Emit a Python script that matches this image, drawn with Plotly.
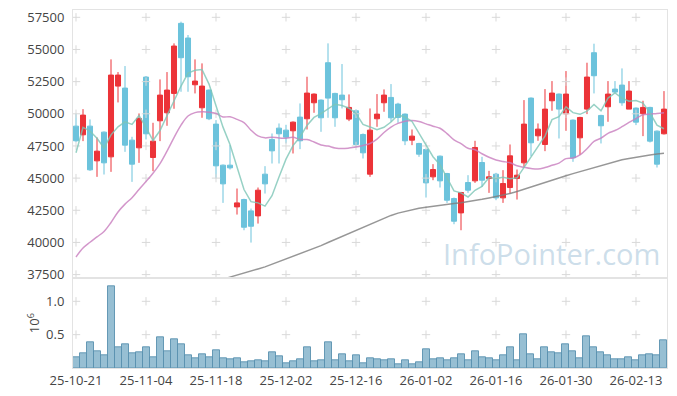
import plotly.graph_objects as go
from plotly.subplots import make_subplots

# ---- data ----
months = [("25-10", [21, 22, 23, 24, 27, 28, 29, 30, 31]),
          ("25-11", [3, 4, 5, 6, 7, 10, 11, 12, 13, 14, 17, 18, 19, 20, 21, 24, 25, 26, 27, 28]),
          ("25-12", [1, 2, 3, 4, 5, 8, 9, 10, 11, 12, 15, 16, 17, 18, 19, 22, 23, 24, 26, 29, 30]),
          ("26-01", [2, 5, 6, 7, 8, 9, 12, 13, 14, 15, 16, 19, 20, 21, 22, 23, 26, 27, 28, 29, 30]),
          ("26-02", [2, 3, 4, 5, 6, 9, 10, 11, 12, 13, 19, 20, 23, 24])]
dates = [f"{m}-{d:02d}" for m, days in months for d in days]

open_ = [49041, 48366, 49041, 46343, 48574, 46654, 52154, 51998, 47951, 47355,
         52854, 46603, 49456, 50078, 51583, 57030, 55889, 52257, 50468, 51842,
         49197, 46006, 46006, 42763, 43334, 42452, 42063, 45306, 48003, 48885,
         48730, 48678, 49741, 49612, 50857, 51064, 53969, 51583, 51453, 49586,
         50234, 48392, 45306, 49612, 50857, 51272, 50753, 49975, 47951, 47692,
         47225, 45098, 46706, 45357, 43412, 42296, 44657, 44787, 46213, 44968,
         45306, 43464, 44268, 44968, 46187, 51220, 48289, 47614, 51012, 51531,
         50001, 49508, 48133, 50364, 54748, 49871, 50545, 51920, 52231, 50364,
         50442, 50001, 50494, 48652, 48444]
high = [50027, 50364, 49560, 48159, 48626, 54229, 53243, 53710, 48211, 50027,
        52932, 49300, 52672, 53243, 55474, 57160, 56122, 54229, 53918, 51894,
        49508, 46058, 47562, 44190, 43400, 42634, 44268, 45928, 48470, 49248,
        49145, 49404, 50805, 52880, 51583, 51116, 55474, 51635, 53866, 51505,
        50338, 48470, 50416, 51531, 51894, 52309, 50857, 50027, 48781, 47744,
        47303, 46084, 46758, 45409, 43490, 43931, 45228, 47900, 46654, 45565,
        45409, 45617, 47614, 45669, 51064, 51272, 49248, 51920, 52543, 51583,
        53321, 49560, 49767, 53969, 55448, 49923, 52543, 52543, 53528, 52543,
        50494, 51012, 50546, 48704, 51765]
low = [47796, 47874, 45565, 45098, 45280, 45487, 50883, 47043, 44709, 46187,
       48003, 45539, 47874, 49067, 50390, 51713, 51713, 51583, 49689, 49508,
       44968, 43075, 45669, 42167, 40948, 39988, 41466, 43801, 46136, 46136,
       47692, 46914, 47251, 48781, 50078, 48600, 49689, 48989, 50416, 49430,
       47433, 46525, 45098, 48989, 50156, 49378, 49300, 47562, 47562, 46654,
       43490, 44838, 44268, 43075, 41415, 40948, 43853, 44631, 44320, 43853,
       43282, 43075, 43801, 43334, 45876, 46706, 47900, 47095, 50234, 48081,
       48678, 46265, 46810, 49975, 51583, 47692, 49378, 51583, 50623, 50364,
       49119, 48263, 47770, 45824, 48392]
close = [47900, 49897, 45643, 47095, 46187, 53010, 53010, 47562, 46084, 49637,
         48444, 47874, 51453, 51842, 55266, 54359, 52880, 52543, 52154, 49612,
         45954, 44553, 45798, 43075, 41181, 41259, 44060, 44553, 47121, 48444,
         48185, 49352, 47900, 51609, 51531, 49689, 51220, 49689, 51090, 50494,
         47614, 46966, 48730, 49975, 51453, 49689, 49715, 47900, 48263, 46862,
         44631, 45669, 44787, 43282, 41648, 43879, 44060, 47381, 44839, 45098,
         43464, 44579, 46732, 45228, 49197, 47744, 48807, 50364, 51609, 50364,
         51531, 46577, 49715, 52854, 52958, 49067, 51531, 51687, 50857, 51765,
         49352, 50494, 47874, 46084, 50364]
ma5 = [46966, 48950, 48650, 48100, 47344, 48366, 48989, 49373, 49171, 49861,
       48947, 47920, 48698, 49850, 50976, 52159, 53160, 53378, 53440, 52310,
       50629, 48963, 47614, 45798, 44112, 43173, 43075, 42826, 43635, 45087,
       46473, 47531, 48200, 49098, 49715, 50016, 50390, 50748, 50644, 50436,
       50021, 49171, 48979, 48756, 48948, 49363, 49912, 49746, 49404, 48486,
       47474, 46665, 46042, 45046, 44003, 43853, 43531, 44050, 44361, 45051,
       44968, 45072, 44942, 45020, 45840, 46696, 47542, 48268, 49544, 49778,
       50535, 50089, 49959, 50208, 50727, 50234, 51225, 51619, 51220, 50981,
       51038, 50831, 50068, 49114, 48834]
ma20 = [38870, 39560, 40015, 40430, 40850, 41550, 42370, 42980, 43480, 44120,
        44730, 45380, 46130, 47100, 48150, 49120, 49830, 50090, 50150, 50123,
        50025, 49758, 49766, 49565, 49315, 48727, 48280, 48129, 48181, 48121,
        48108, 48182, 48005, 47993, 47806, 47573, 47490, 47347, 47294, 47338,
        47421, 47542, 47688, 48033, 48547, 48968, 49251, 49418, 49475, 49396,
        49219, 49034, 48879, 48462, 47968, 47678, 47320, 47204, 46892, 46622,
        46415, 46295, 46195, 45958, 45845, 45748, 45703, 45826, 45993, 46168,
        46513, 46559, 46805, 47284, 47849, 48108, 48482, 48697, 48998, 49332,
        49626, 49922, 49979, 50022, 50080]
ma60 = [None] * 21 + [
        37150, 37320, 37470, 37620, 37780, 37940, 38100, 38300, 38500, 38700,
        38900, 39100, 39300, 39520, 39750, 39990, 40230, 40470, 40710, 40960,
        41200, 41430, 41660, 41880, 42100, 42280, 42420, 42540, 42650, 42740,
        42820, 42890, 42960, 43020, 43080, 43160, 43250, 43350, 43460, 43570,
        43690, 43810, 43960, 44140, 44330, 44520, 44700, 44870, 45030, 45190,
        45350, 45510, 45670, 45830, 45990, 46150, 46290, 46420, 46530, 46630,
        46720, 46800, 46870, 46930]
volume = [154000, 214000, 379000, 244000, 184000, 1225000, 304000, 349000, 214000, 229000,
          304000, 154000, 454000, 244000, 424000, 349000, 184000, 139000, 199000, 154000,
          259000, 139000, 124000, 139000, 79000, 94000, 109000, 94000, 229000, 169000,
          64000, 94000, 124000, 304000, 94000, 109000, 379000, 109000, 199000, 94000,
          184000, 64000, 139000, 124000, 109000, 124000, 49000, 109000, 49000, 79000,
          274000, 124000, 139000, 109000, 139000, 199000, 109000, 244000, 154000, 139000,
          109000, 184000, 304000, 109000, 499000, 199000, 124000, 304000, 229000, 214000,
          349000, 244000, 139000, 469000, 304000, 229000, 184000, 124000, 124000, 154000,
          109000, 184000, 199000, 184000, 409000]

price_ticks = [37500, 40000, 42500, 45000, 47500, 50000, 52500, 55000, 57500]
vol_ticks = [0.5, 1.0]
x_tick_idx = list(range(0, 85, 10))

# ---- styles ----
RED = "#ec3338"
BLUE = "#6cc3dc"
GRIDC = "#d9d9d9"
FONT = "Open Sans"

fig = make_subplots(rows=2, cols=1, shared_xaxes=True, vertical_spacing=0)

xt = [dates[k] for k in x_tick_idx]
# grid crosses
fig.add_trace(go.Scatter(x=[x for x in xt for _ in price_ticks], y=[y for _ in xt for y in price_ticks],
                         mode="markers", marker=dict(symbol="cross-thin", size=6, line=dict(color=GRIDC, width=1)),
                         hoverinfo="skip", showlegend=False), row=1, col=1)
fig.add_trace(go.Scatter(x=[x for x in xt for _ in vol_ticks], y=[y for _ in xt for y in vol_ticks],
                         mode="markers", marker=dict(symbol="cross-thin", size=6, line=dict(color=GRIDC, width=1)),
                         hoverinfo="skip", showlegend=False), row=2, col=1)

fig.add_trace(go.Scatter(x=dates, y=ma60, mode="lines", line=dict(color="rgba(125,125,125,0.8)", width=1.5),
                         showlegend=False), row=1, col=1)
fig.add_trace(go.Scatter(x=dates, y=ma20, mode="lines", line=dict(color="rgba(200,125,190,0.8)", width=1.5, shape="spline"),
                         showlegend=False), row=1, col=1)
fig.add_trace(go.Scatter(x=dates, y=ma5, mode="lines", line=dict(color="rgba(125,198,182,0.8)", width=1.5),
                         showlegend=False), row=1, col=1)

fig.add_trace(go.Candlestick(x=dates, open=open_, high=high, low=low, close=close,
                             increasing=dict(line=dict(color=RED, width=1), fillcolor=RED),
                             decreasing=dict(line=dict(color=BLUE, width=1), fillcolor=BLUE),
                             whiskerwidth=0, showlegend=False), row=1, col=1)

fig.add_trace(go.Bar(x=dates, y=[v / 1e6 for v in volume],
                     marker=dict(color="rgba(125,175,200,0.8)", line=dict(color="rgba(90,145,175,0.9)", width=1)),
                     showlegend=False), row=2, col=1)

# page body has an 8px default margin, so the figure is sized/offset to compensate
dom = (367.6 - 278) / 357.6
xcommon = dict(type="category", categoryorder="array", categoryarray=dates, range=[-0.43, 84.43],
               showgrid=False, showline=True, mirror=True, linecolor="#e3e3e3", automargin=False)
fig.update_layout(
    width=669, height=388,
    margin=dict(l=65, r=10, t=2, b=28.4),
    paper_bgcolor="white", plot_bgcolor="white",
    font=dict(family=FONT, size=13, color="#444"),
    bargap=0, boxgap=0.28, boxgroupgap=0,
    xaxis=dict(**xcommon, showticklabels=False, rangeslider=dict(visible=False), ticks=""),
    xaxis2=dict(**xcommon, tickvals=xt, ticktext=xt, ticks="", tickangle=0, ticklabeloverflow="allow"),
    yaxis=dict(domain=[dom, 1], range=[37212, 58068], tickvals=price_ticks, tickformat="d",
               showgrid=False, zeroline=False, showline=True, mirror=True, linecolor="#e3e3e3",
               ticks="outside", ticklen=5, tickcolor="rgba(0,0,0,0)", automargin=False,
               ticklabeloverflow="allow"),
    yaxis2=dict(domain=[0, dom], range=[0, 1.345], tickvals=vol_ticks, ticktext=["0.5", "1.0"],
                showgrid=False, zeroline=False, showline=True, mirror=True, linecolor="#e3e3e3",
                ticks="outside", ticklen=5, tickcolor="rgba(0,0,0,0)", automargin=False,
                ticklabeloverflow="allow",
                title=dict(text="10<sup>6</sup>", standoff=3, font=dict(size=13))),
    annotations=[dict(text="InfoPointer.com", xref="paper", yref="paper", x=0.805, y=0.321,
                      xanchor="center", yanchor="middle", showarrow=False,
                      font=dict(family=FONT, size=29, color="rgba(175,203,222,0.65)"))],
)

fig.write_html("out.html")
